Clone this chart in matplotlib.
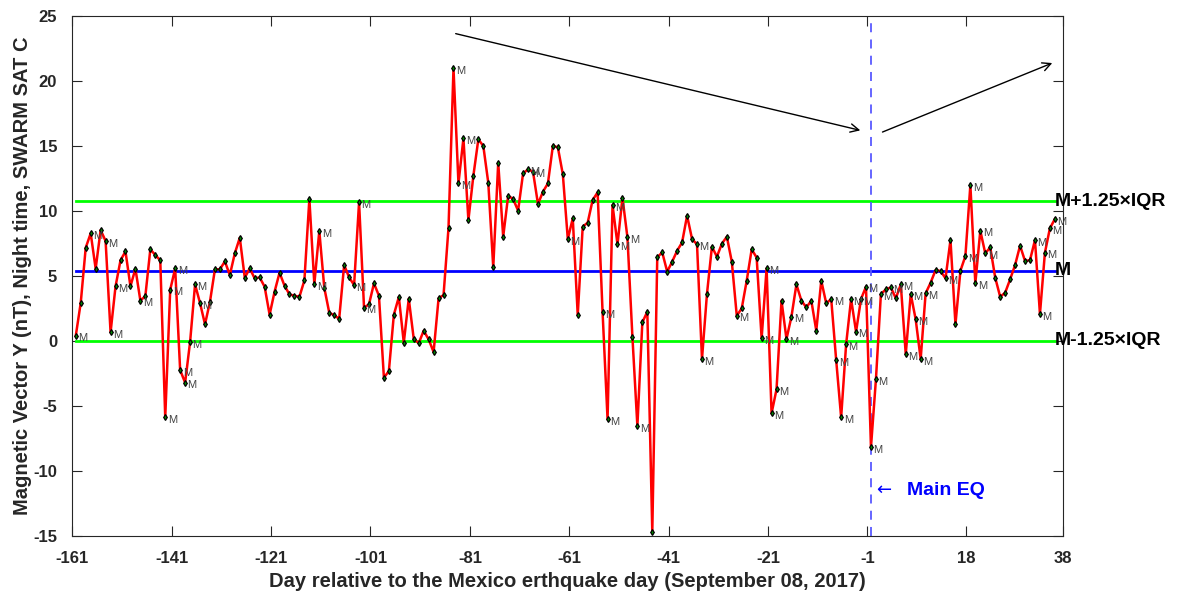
import numpy as np
import matplotlib.pyplot as plt

plt.rcParams['font.family'] = ['Liberation Sans', 'DejaVu Sans']
plt.rcParams['axes.unicode_minus'] = False

# nightly Y component of the magnetic vector, one value per day
mag_y = [0.38, 2.92, 7.15, 8.26, 5.54, 8.51, 7.67, 0.64, 4.18, 6.18,
         6.87, 4.18, 5.54, 3.08, 3.44, 7.03, 6.59, 6.18, -5.9, 3.92,
         5.56, -2.26, -3.23, -0.1, 4.33, 2.9, 1.26, 3.0, 5.49, 5.49,
         6.1, 5.05, 6.72, 7.92, 4.85, 5.56, 4.79, 4.87, 4.15, 2.0,
         3.77, 5.23, 4.23, 3.56, 3.46, 3.38, 4.64, 10.9, 4.36, 8.44,
         4.08, 2.16, 1.95, 1.69, 5.82, 4.87, 4.28, 10.64, 2.54, 2.8,
         4.41, 3.46, -2.85, -2.33, 2.0, 3.36, -0.15, 3.23, 0.15, -0.2,
         0.77, 0.1, -0.87, 3.26, 3.51, 8.69, 20.95, 12.1, 15.56, 9.28,
         12.69, 15.49, 14.98, 12.15, 5.64, 13.69, 8.0, 11.15, 10.9, 10.0,
         12.87, 13.18, 13.0, 10.51, 11.46, 12.1, 15.0, 14.87, 12.8, 7.82,
         9.41, 1.98, 8.77, 9.08, 10.82, 11.41, 2.18, -6.05, 10.44, 7.41,
         11.0, 7.95, 0.31, -6.56, 1.41, 2.23, -14.7, 6.41, 6.8, 5.31,
         6.08, 6.92, 7.56, 9.62, 7.82, 7.41, -1.41, 3.59, 7.23, 6.46,
         7.46, 8.0, 6.08, 1.92, 2.49, 4.62, 7.03, 6.39, 0.18, 5.56,
         -5.59, -3.74, 3.08, 0.13, 1.85, 4.33, 3.08, 2.56, 3.08, 0.77,
         4.62, 2.87, 3.21, -1.49, -5.9, -0.28, 3.21, 0.69, 3.21, 4.15,
         -8.2, -2.97, 3.59, 3.95, 4.1, 3.26, 4.33, -1.03, 3.59, 1.64,
         -1.41, 3.64, 4.46, 5.43, 5.36, 4.8, 7.74, 1.26, 5.38, 6.51,
         11.97, 4.41, 8.46, 6.72, 7.18, 4.85, 3.38, 3.69, 4.72, 5.82,
         7.31, 6.13, 6.2, 7.74, 2.05, 6.77, 8.64, 9.36]
days = np.arange(1, len(mag_y) + 1)

# days flagged with an "M" tag (1-based day index)
m_days = [1, 4, 7, 8, 9, 14, 19, 20, 21, 22, 23, 24, 25, 26,
          49, 50, 57, 58, 59, 77, 78, 79, 92, 93,
          100, 107, 108, 109, 110, 112, 114,
          126, 127, 134, 139, 140, 141, 142, 144, 145,
          153, 154, 155, 156, 157, 158, 159, 160, 161, 162, 163, 165, 167,
          168, 169, 170, 171, 172,
          176, 180, 181, 182, 183, 184, 194, 195, 196, 197, 198]

eq_day = 161
median_val = 5.37
iqr_band = 5.37

tick_pos = [0.3, 20.3, 40.3, 60.3, 80.3, 100.3, 120.3, 140.3, 160.3, 180.1, 199.7]
tick_lbl = ['-161', '-141', '-121', '-101', '-81', '-61', '-41', '-21', '-1', '18', '38']

fig = plt.figure(figsize=(11.86, 5.98), dpi=100)
ax = fig.add_axes([72.3/1186, 1-535.7/598, 991/1186, 520/598])

x0, x1 = days[0], days[-1]
ax.plot([x0, x1], [median_val + iqr_band]*2, color=(0, 1, 0), lw=2)
ax.plot([x0, x1], [median_val - iqr_band]*2, color=(0, 1, 0), lw=2)
ax.plot([x0, x1], [median_val]*2, color=(0, 0, 1), lw=2)

ax.plot(days, mag_y, color='r', lw=1.8, zorder=3)
ax.plot(days, mag_y, 'd', ms=3.0, mfc=(0, 0.55, 0), mec='k', mew=0.9, zorder=4)

for d in m_days:
    ax.text(days[d-1] + 0.5, mag_y[d-1] - 0.2, 'M', fontsize=8,
            color='#444444', va='center', ha='left', zorder=5)

ax.axvline(eq_day, color=(0.35, 0.35, 1), lw=1.3, ls=(0, (5, 4)))
ax.text(eq_day + 1.0, -11.5, '\u2190', color='b', fontsize=13,
        family='DejaVu Sans', va='center', ha='left')
ax.text(eq_day + 7.3, -11.5, 'Main EQ', color='b', fontsize=14,
        fontweight='bold', va='center', ha='left')

ax.annotate('', xy=(159.4, 16.13), xytext=(76.9, 23.67),
            arrowprops=dict(arrowstyle='->', color='k', lw=1, mutation_scale=15))
ax.annotate('', xy=(198.0, 21.44), xytext=(162.8, 15.97),
            arrowprops=dict(arrowstyle='->', color='k', lw=1, mutation_scale=15))

for yv, s in [(median_val + iqr_band, 'M+1.25\u00d7IQR'),
              (median_val, 'M'),
              (median_val - iqr_band, 'M-1.25\u00d7IQR')]:
    ax.text(x1, yv, s, fontsize=14, fontweight='bold', va='center',
            ha='left', clip_on=False)

ax.set_xlim(0.3, 199.7)
ax.set_ylim(-15, 25)
ax.set_xticks(tick_pos)
ax.set_xticklabels(tick_lbl)
ax.set_yticks(np.arange(-15, 26, 5))
ax.tick_params(direction='in', length=7, top=True, right=True, width=0.8,
               labelsize=12, colors='#262626')
ax.tick_params(axis='x', pad=11)
ax.tick_params(axis='y', pad=11)
for lbl in ax.get_xticklabels() + ax.get_yticklabels():
    lbl.set_fontweight('bold')
for sp in ax.spines.values():
    sp.set_color('#262626')
    sp.set_linewidth(0.8)

ax.set_xlabel('Day relative to the Mexico erthquake day (September 08, 2017)',
              fontsize=14.5, fontweight='bold', color='#262626', labelpad=4)
ax.set_ylabel('Magnetic Vector Y (nT), Night time, SWARM SAT C',
              fontsize=14.5, fontweight='bold', color='#262626', labelpad=1)

fig.savefig('out.png', dpi=100)
